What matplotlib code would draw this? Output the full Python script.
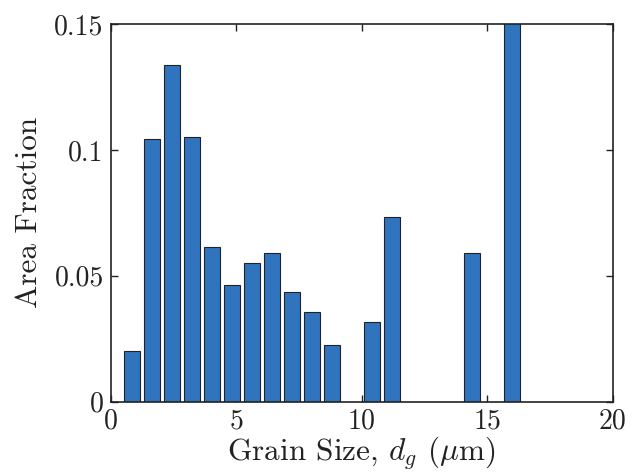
import matplotlib

matplotlib.use("Agg")
import matplotlib.pyplot as plt

# bin centres (um) and area fractions
grain_size = [0.86, 1.65, 2.45, 3.25, 4.04, 4.84, 5.63, 6.43, 7.22, 8.02, 8.82,
              10.42, 11.21, 14.40, 15.98]
area_frac = [0.0203, 0.1043, 0.1338, 0.1052, 0.0615, 0.0463, 0.0552, 0.0592,
             0.0435, 0.0357, 0.0227, 0.0318, 0.0733, 0.0592, 0.16]
x_ticks = [0, 5, 10, 15, 20]
y_ticks = [0, 0.05, 0.1, 0.15]
y_tick_labels = ["0", "0.05", "0.1", "0.15"]

plt.rcParams["font.family"] = ["cmr10", "DejaVu Serif"]
plt.rcParams["mathtext.fontset"] = "cm"
plt.rcParams["axes.formatter.use_mathtext"] = True


def main():
    fig = plt.figure(figsize=(6.38, 4.74), dpi=100)
    ax = fig.add_axes([0.1735, 0.1525, 0.787, 0.797])

    ax.bar(grain_size, area_frac, width=0.64, color="#3174BE",
           edgecolor="#222222", linewidth=0.8, zorder=2)

    ax.set_xlim(0, 20)
    ax.set_ylim(0, 0.15)
    ax.set_xticks(x_ticks)
    ax.set_xticklabels([str(t) for t in x_ticks])
    ax.set_yticks(y_ticks)
    ax.set_yticklabels(y_tick_labels)

    ax.tick_params(direction="in", length=5, width=1.0, top=True, right=True,
                   labelsize=20, pad=5, colors="#222222", labelcolor="#222222")
    for sp in ax.spines.values():
        sp.set_linewidth(1.2)
        sp.set_color("#222222")

    ax.set_xlabel(r"Grain Size, $d_g$ ($\mu$m)", fontsize=22.5, color="#222222",
                  labelpad=0)
    ax.set_ylabel("Area Fraction", fontsize=22.5, color="#222222", labelpad=8)

    fig.savefig("out.png", dpi=100)
    plt.close(fig)


if __name__ == "__main__":
    main()
